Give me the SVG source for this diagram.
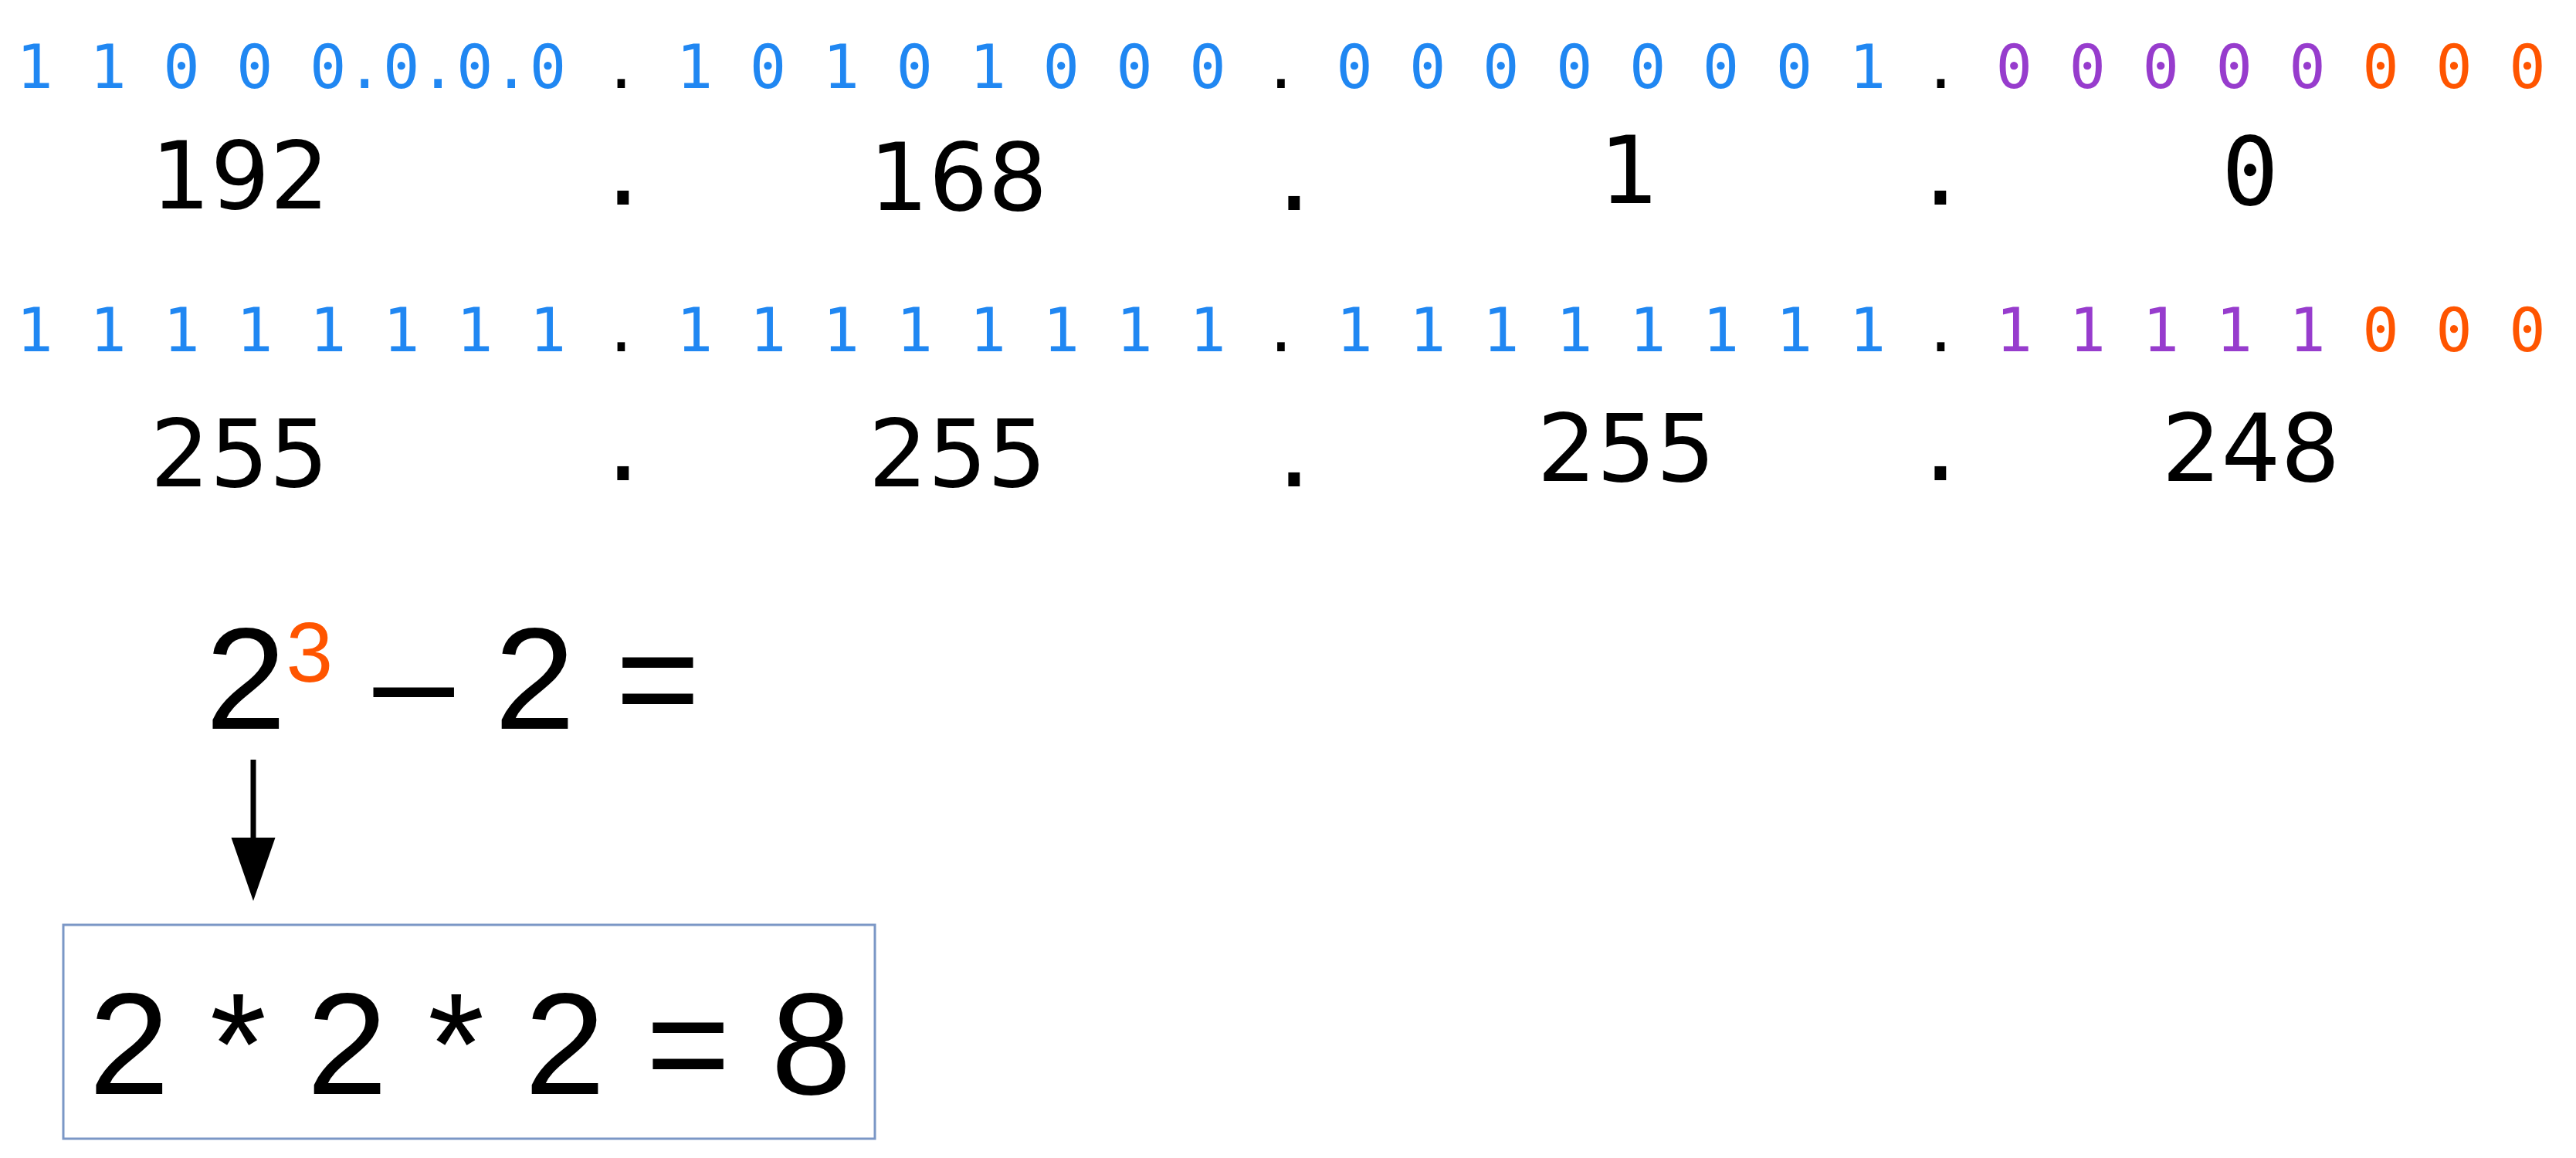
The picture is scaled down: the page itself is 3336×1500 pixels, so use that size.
<svg xmlns="http://www.w3.org/2000/svg" width="3336" height="1500" viewBox="0 0 3336 1500">
<style>
.bin{font-family:"DejaVu Sans Mono","Liberation Mono",monospace;font-size:78.85px;white-space:pre}
.dec{font-family:"DejaVu Sans","Verdana",sans-serif;font-size:121px;fill:#000;text-anchor:middle}
.mono{font-family:"DejaVu Sans Mono","Liberation Mono",monospace;fill:#000;text-anchor:middle}
.math{font-family:"Liberation Sans",Arial,sans-serif;font-size:188px;fill:#000;white-space:pre}
.b{fill:#2087F2}.p{fill:#973CCD}.o{fill:#FF5500}.k{fill:#000}
</style>
<defs>
<marker id="head" markerUnits="userSpaceOnUse" markerWidth="90" markerHeight="60" refX="15" refY="28.5" orient="auto">
<path d="M0,0 L82,28.5 L0,57 Z" fill="#000"/>
</marker>
</defs>
<rect width="3336" height="1500" fill="#fff"/>
<g id="ip-binary">
<text class="bin" x="21.3" y="114"><tspan class="b">1 1 0 0 0.0.0.0 </tspan><tspan class="k">.</tspan><tspan class="b"> 1 0 1 0 1 0 0 0 </tspan><tspan class="k">.</tspan><tspan class="b"> 0 0 0 0 0 0 0 1 </tspan><tspan class="k">.</tspan><tspan class="p"> 0 0 0 0 0 </tspan><tspan class="o">0 0 0</tspan></text>
</g>
<g id="ip-decimal">
<text class="dec" x="311" y="270">192</text>
<text class="mono" x="807" y="265" font-size="121">.</text>
<text class="dec" x="1241" y="272">168</text>
<text class="mono" x="1676" y="272" font-size="121">.</text>
<text class="dec" x="2110" y="263">1</text>
<text class="mono" x="2513" y="265" font-size="121">.</text>
<text class="mono" x="2914" y="265" font-size="123">0</text>
</g>
<g id="mask-binary">
<text class="bin" x="21.3" y="455"><tspan class="b">1 1 1 1 1 1 1 1 </tspan><tspan class="k">.</tspan><tspan class="b"> 1 1 1 1 1 1 1 1 </tspan><tspan class="k">.</tspan><tspan class="b"> 1 1 1 1 1 1 1 1 </tspan><tspan class="k">.</tspan><tspan class="p"> 1 1 1 1 1</tspan><tspan class="o"> 0 0 0</tspan></text>
</g>
<g id="mask-decimal">
<text class="dec" x="310" y="630">255</text>
<text class="mono" x="807" y="622" font-size="121">.</text>
<text class="dec" x="1240" y="630">255</text>
<text class="mono" x="1676" y="630" font-size="121">.</text>
<text class="dec" x="2106" y="623">255</text>
<text class="mono" x="2513" y="622" font-size="121">.</text>
<text class="dec" x="2915" y="623">248</text>
</g>
<g id="formula">
<text class="math" x="266" y="944">2<tspan class="o" font-size="109" dy="-61">3</tspan><tspan dy="61"> – 2 =</tspan></text>
</g>
<g id="connectors">
<line x1="328" y1="984" x2="328" y2="1100" stroke="#000" stroke-width="7" marker-end="url(#head)"/>
</g>
<g id="expansion-box">
<rect x="82" y="1198" width="1051" height="277" fill="none" stroke="#7B97C6" stroke-width="3"/>
<text class="math" x="115" y="1417">2 * 2 * 2 = 8</text>
</g>
</svg>
